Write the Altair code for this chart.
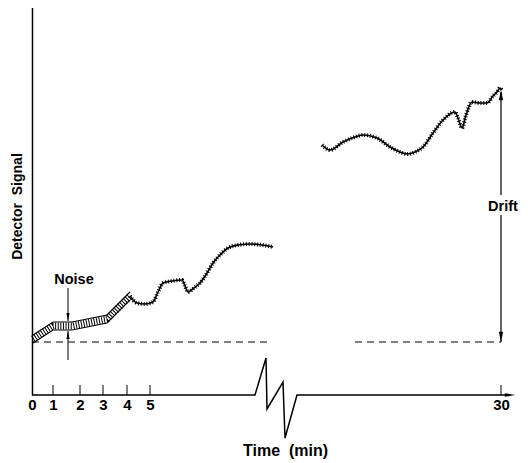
import altair as alt
import pandas as pd

# ---- axis ticks (position along the drawn time axis, label) ----
tick_pos = [0, 21, 48, 71, 95, 118, 469]
tick_labels = ["0", "1", "2", "3", "4", "5", "30"]

# ---- noise band (early part of the trace) ----
band_x = [1, 21, 40, 75, 98]
band_mid = [56, 69, 69, 76, 99]
band_top = [60, 73, 73, 80, 103]
band_bot = [52, 65, 65, 72, 95]

# ---- trace 1 (before the break) ----
tr1_x = [98, 101, 105, 113, 121, 126, 131, 140, 150, 153, 156, 162, 168, 175, 181,
         188, 196, 206, 218, 230, 241]
tr1_y = [99, 95, 92, 91, 93, 103, 112, 114, 115, 109, 103, 107, 112, 122, 132,
         140, 147, 150, 151, 150, 148]

# ---- trace 2 (after the break, ~30 min) ----
tr2_x = [290, 298, 311, 323, 331, 345, 358, 368, 375, 383, 391, 401, 411, 423, 426,
         430, 434, 440, 448, 455, 461, 465, 468, 470]
tr2_y = [250, 245, 253, 258, 260, 257, 248, 243, 241, 243, 248, 262, 275, 283, 277,
         267, 280, 293, 292, 292, 299, 303, 307, 305]

# ---- time axis line with injection disturbance ----
axis_x = [0, 223, 234, 235, 251, 253, 265, 478]
axis_y = [0, 0, 37, -14, 13, -43, 0, 0]

baseline_level = 53
baseline_segs = [(0, 238), (323, 469)]

drift_x = 469
drift_segs = [(303, 200), (180, 53)]
noise_x = 36
noise_segs = [(107, 74), (35, 64)]

X_TITLE = "Time\u00a0\u00a0(min)"
Y_TITLE = "Detector\u00a0\u00a0Signal"

FONT = "Liberation Sans"
X = alt.Scale(domain=[0, 488], nice=False, zero=False)
Y = alt.Scale(domain=[0, 390], nice=False, zero=False)

label_expr = "".join(f"datum.value == {p} ? '{l}' : " for p, l in zip(tick_pos, tick_labels)) + "''"

x_axis = alt.Axis(values=tick_pos, labelExpr=label_expr, domain=False, ticks=False, grid=False,
                  labelFont=FONT, labelFontSize=15, labelFontWeight="bold", labelColor="black",
                  labelPadding=2, labelFlush=False, labelOverlap=False,
                  title=X_TITLE, titleFont=FONT, titleFontSize=16, titleFontWeight="bold",
                  titleColor="black", titleX=253, titleY=55.5, titleBaseline="middle",
                  titleAlign="center")
y_axis = alt.Axis(domain=True, domainColor="black", domainWidth=1.5, ticks=False, labels=False,
                  grid=False, title=Y_TITLE, titleFont=FONT, titleFontSize=14,
                  titleFontWeight="bold", titleColor="black", titleX=-15, titleY=201,
                  titleAngle=270, titleAlign="center", titleBaseline="middle")

def xenc():
    return alt.X("x:Q", scale=X, axis=x_axis, title=X_TITLE)

def yenc():
    return alt.Y("y:Q", scale=Y, axis=y_axis, title=Y_TITLE)

def path_df(xs, ys):
    return pd.DataFrame({"x": xs, "y": ys, "o": range(len(xs))})

# time axis line
ax_line = alt.Chart(path_df(axis_x, axis_y)).mark_line(color="black", strokeWidth=1.5).encode(
    x=xenc(), y=yenc(), order="o:Q")
ax_arrow = alt.Chart(pd.DataFrame({"x": [478], "y": [0]})).mark_point(
    shape="M1,0L-1,-0.35L-1,0.35Z", size=110, filled=True, color="black", opacity=1).encode(
    x=xenc(), y=yenc())

# ticks (pointing up)
tk_df = pd.DataFrame({"x": tick_pos[1:], "y": [0] * (len(tick_pos) - 1), "y2": [10] * (len(tick_pos) - 1)})
ticks = alt.Chart(tk_df).mark_rule(color="black", strokeWidth=1).encode(
    x=xenc(), y=yenc(), y2="y2:Q")

# dashed baseline
bl_df = pd.DataFrame({"x": [s[0] for s in baseline_segs], "x2": [s[1] for s in baseline_segs],
                      "y": [baseline_level] * len(baseline_segs)})
baseline = alt.Chart(bl_df).mark_rule(color="black", strokeWidth=1, strokeDash=[7, 5]).encode(
    x=xenc(), x2="x2:Q", y=yenc())

# noise band
band_layers = []
for ys in (band_top, band_bot):
    band_layers.append(alt.Chart(path_df(band_x, ys)).mark_line(color="black", strokeWidth=1.2).encode(
        x=xenc(), y=yenc(), order="o:Q"))
band_layers.append(alt.Chart(path_df(band_x, band_mid)).mark_line(
    color="black", strokeWidth=7, strokeDash=[1, 1.6]).encode(x=xenc(), y=yenc(), order="o:Q"))

# noisy traces
trace_layers = []
for xs, ys in ((tr1_x, tr1_y), (tr2_x, tr2_y)):
    d = path_df(xs, ys)
    trace_layers.append(alt.Chart(d).mark_line(color="black", strokeWidth=1.6, interpolate="monotone").encode(
        x=xenc(), y=yenc(), order="o:Q"))
    trace_layers.append(alt.Chart(d).mark_line(color="black", strokeWidth=4, strokeDash=[1, 1.8],
                                               interpolate="monotone").encode(
        x=xenc(), y=yenc(), order="o:Q"))

# drift and noise arrows
def vseg_df(xpos, segs):
    return pd.DataFrame({"x": [xpos] * len(segs), "y": [s[0] for s in segs], "y2": [s[1] for s in segs]})

drift_lines = alt.Chart(vseg_df(drift_x, drift_segs)).mark_rule(color="black", strokeWidth=1.2).encode(
    x=xenc(), y=yenc(), y2="y2:Q")
noise_lines = alt.Chart(vseg_df(noise_x, noise_segs)).mark_rule(color="black", strokeWidth=1).encode(
    x=xenc(), y=yenc(), y2="y2:Q")

UP = "M0,-1L0.4,1L-0.4,1Z"
DOWN = "M0,1L0.4,-1L-0.4,-1Z"
heads = []
for xpos, ypos, shp, sz in ((drift_x, 300, UP, 110), (drift_x, 58, DOWN, 110),
                            (noise_x, 78, DOWN, 64), (noise_x, 60, UP, 64)):
    heads.append(alt.Chart(pd.DataFrame({"x": [xpos], "y": [ypos]})).mark_point(
        shape=shp, size=sz, filled=True, color="black", opacity=1).encode(x=xenc(), y=yenc()))

# labels
lab_df = pd.DataFrame({"x": [42, 471], "y": [115.5, 188], "t": ["Noise", "Drift"]})
labels = alt.Chart(lab_df).mark_text(font=FONT, fontSize=14.5, fontWeight="bold", color="black",
                                     align="center", baseline="middle").encode(
    x=xenc(), y=yenc(), text="t:N")

chart = alt.layer(baseline, ticks, ax_line, ax_arrow, *band_layers, *trace_layers,
                  drift_lines, noise_lines, *heads, labels).properties(
    width=488, height=390,
    autosize=alt.AutoSizeParams(type="none"),
    padding={"left": 24, "top": -3, "right": 0, "bottom": 68},
    background="white",
).configure_view(strokeWidth=0)

chart.save("out.html", embed_options={"renderer": "svg", "actions": False})
